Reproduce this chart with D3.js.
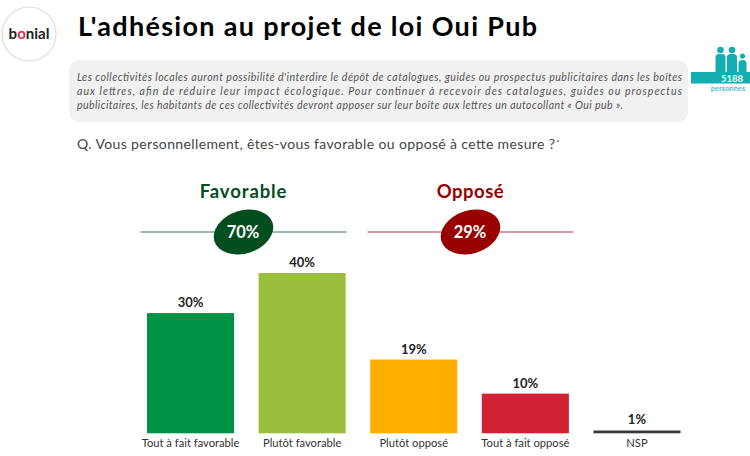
<!DOCTYPE html>
<html lang="fr">
<head>
<meta charset="utf-8">
<script src="https://cdn.jsdelivr.net/npm/d3@7/dist/d3.min.js"></script>
<style>
html,body{margin:0;padding:0;background:#fff}
svg{display:block}
text{font-family:Lato,sans-serif}
</style>
</head>
<body>
<svg id="c" width="750" height="456"></svg>
<script>
const categories = ["Tout à fait favorable","Plutôt favorable","Plutôt opposé","Tout à fait opposé","NSP"];
const values = [30,40,18.4,9.9,0.7];
const valueLabels = ["30%","40%","19%","10%","1%"];
const barColors = ["#009245","#9BBE3C","#FFAE00","#D12233","#3A3A3A"];
const groupNames = ["Favorable","Opposé"];
const groupValues = ["70%","29%"];
const groupDark = ["#034E1F","#990000"];
const groupLine = ["#7FA08C","#C9777B"];
const introLines = [
 "Les collectivités locales auront possibilité d'interdire le dépôt de catalogues, guides ou prospectus publicitaires dans les boîtes",
 "aux lettres, afin de réduire leur impact écologique. Pour continuer à recevoir des catalogues, guides ou prospectus",
 "publicitaires, les habitants de ces collectivités devront apposer sur leur boîte aux lettres un autocollant « Oui pub »."
];
const title = "L'adhésion au projet de loi Oui Pub";
const question = "Q. Vous personnellement, êtes-vous favorable ou opposé à cette mesure ?";

const svg = d3.select("#c");
const x = d3.scaleBand().domain(categories).range([147,680.5]).paddingInner(0.22).paddingOuter(0);
const y = d3.scaleLinear().domain([0,40]).range([433.3,273]);

// logo
svg.append("circle").attr("cx",29).attr("cy",34).attr("r",27).attr("fill","#fff").attr("stroke","#DDDDDD").attr("stroke-width",1.2);
const logo = svg.append("text").attr("x",29).attr("y",39).attr("text-anchor","middle")
  .attr("font-size",15).attr("font-weight",700).attr("fill","#222");
logo.append("tspan").text("b");
logo.append("tspan").attr("fill","#E0303F").text("o");
logo.append("tspan").text("nial");

// title
svg.append("text").attr("x",78).attr("y",36).attr("font-size",27).attr("font-weight",700).attr("fill","#000")
  .attr("textLength",459).attr("lengthAdjust","spacing").text(title);

// intro box
svg.append("rect").attr("x",69).attr("y",60).attr("width",619).attr("height",62).attr("rx",10).attr("fill","#F1F1F1");
const introWidths = [605,605,546];
introLines.forEach((t,i)=>{
  svg.append("text").attr("x",77).attr("y",[81,95,109][i]).attr("font-size",10.6).attr("font-style","italic").attr("fill","#555")
    .attr("textLength",introWidths[i]).attr("lengthAdjust","spacing").text(t);
});

// question
svg.append("text").attr("x",77).attr("y",149).attr("font-size",14).attr("fill","#444").attr("textLength",478).attr("lengthAdjust","spacing").text(question);
svg.append("text").attr("x",556.5).attr("y",146).attr("font-size",7).attr("fill","#444").text("*");

// sample icon
const teal="#13AEB2";
const people=[[720.5,50,3.3,10,22],[732,50,3.3,10,22],[742.5,56,2.6,8,17]];
people.forEach(p=>{
  svg.append("circle").attr("cx",p[0]).attr("cy",p[1]).attr("r",p[2]).attr("fill",teal);
  svg.append("rect").attr("x",p[0]-p[3]/2).attr("y",p[1]+4).attr("width",p[3]).attr("height",p[4]).attr("rx",3.5).attr("fill",teal);
});
svg.append("rect").attr("x",691).attr("y",72).attr("width",59).attr("height",11.5).attr("fill",teal);
svg.append("text").attr("x",743).attr("y",81.5).attr("text-anchor","end").attr("font-size",9.5).attr("font-weight",700).attr("fill","#fff").text("5188");
svg.append("text").attr("x",728).attr("y",90.5).attr("text-anchor","middle").attr("font-size",7.5).attr("font-weight",700).attr("fill","#4CC0C4").text("personnes");

// group headers
const gx = d3.scaleOrdinal().domain(groupNames).range([243.5,470.5]);
groupNames.forEach((n,i)=>{
  const cx = gx(n);
  svg.append("line").attr("x1",cx-103).attr("x2",cx+103).attr("y1",232).attr("y2",232).attr("stroke",groupLine[i]).attr("stroke-width",1.5);
  svg.append("ellipse").attr("cx",cx).attr("cy",232).attr("rx",30.5).attr("ry",21.5)
     .attr("transform",`rotate(-18 ${cx} 232)`).attr("fill",groupDark[i]);
  svg.append("text").attr("x",cx-0.5).attr("y",237.5).attr("text-anchor","middle").attr("font-size",16.5).attr("font-weight",700).attr("fill","#fff").text(groupValues[i]);
  svg.append("text").attr("x",cx).attr("y",198).attr("text-anchor","middle").attr("font-size",18.5).attr("font-weight",700).attr("fill",groupDark[i]).attr("letter-spacing",i===0?0.9:0.5).text(n);
});

// bars
svg.append("g").selectAll("rect").data(values).join("rect")
  .attr("x",(d,i)=>x(categories[i])).attr("y",d=>y(d)).attr("width",x.bandwidth())
  .attr("height",d=>y(0)-y(d)).attr("fill",(d,i)=>barColors[i]);

svg.append("g").selectAll("text").data(values).join("text")
  .attr("x",(d,i)=>x(categories[i])+x.bandwidth()/2).attr("y",d=>y(d)-6).attr("text-anchor","middle")
  .attr("font-size",13).attr("font-weight",700).attr("fill","#222").text((d,i)=>valueLabels[i]);

// axis labels
const ax = svg.append("g").attr("transform","translate(0,433)").call(d3.axisBottom(x).tickSize(0).tickPadding(6));
ax.select(".domain").remove();
ax.selectAll("text").attr("font-family","Lato,sans-serif").attr("font-size",11.2).attr("fill","#333");
</script>
</body>
</html>
